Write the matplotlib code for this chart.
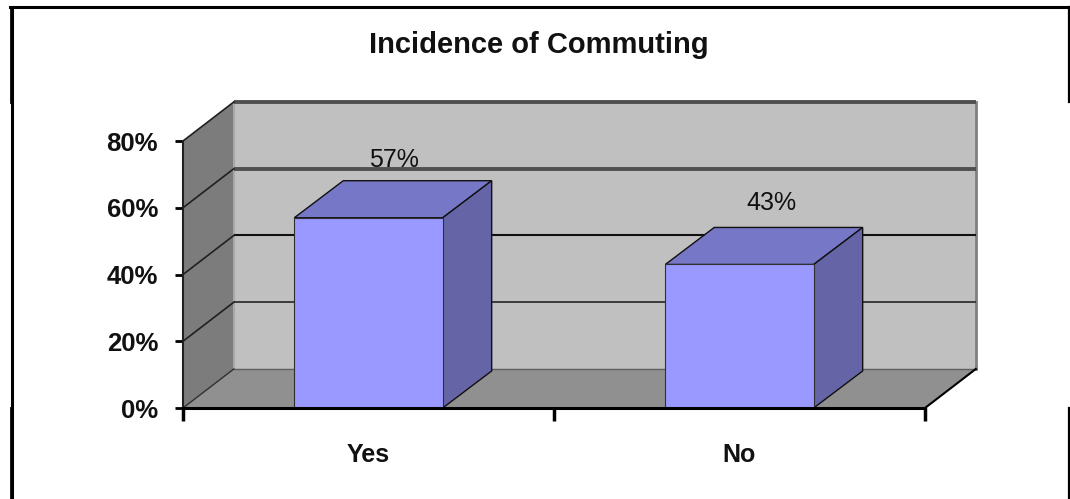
import matplotlib
matplotlib.use('Agg')
import matplotlib.pyplot as plt
from matplotlib.lines import Line2D
from matplotlib.patches import Polygon

categories = ['Yes', 'No']
values = [57, 43]
y_ticks = [0, 20, 40, 60, 80]
y_tick_labels = ['0%', '20%', '40%', '60%', '80%']

W, H = 1070, 499
plt.rcParams['font.family'] = ['Liberation Sans', 'DejaVu Sans']

fig = plt.figure(figsize=(W / 100, H / 100), dpi=100, facecolor='white')
# axes = front plane of the 3D box, in pixels 183..925 / 408..141
ax = fig.add_axes([183 / W, 1 - 408 / H, (925 - 183) / W, (408 - 141) / H])
ax.set_xlim(0, 2)
ax.set_ylim(0, 80)
ax.patch.set_alpha(0)

# depth of the box and of the bars, in data units
dx, dy = 0.137, 11.7
bar_dx, bar_dy = 0.132, 11.1
bar_w = 0.4


def poly(pts, fc, ec='none', lw=0.0, z=1):
    ax.add_patch(Polygon(pts, closed=True, fc=fc, ec=ec, lw=lw, zorder=z, clip_on=False))


# walls and floor
poly([(dx, dy), (2 + dx, dy), (2 + dx, 80 + dy), (dx, 80 + dy)], '#c0c0c0')
poly([(0, 0), (dx, dy), (dx, 80 + dy), (0, 80)], '#7c7c7c')
poly([(0, 0), (2, 0), (2 + dx, dy), (dx, dy)], '#909090')

# wall edges
ax.plot([dx, dx], [dy, 80 + dy], color='#a8a8a8', lw=1.5, zorder=2, clip_on=False)
ax.plot([2 + dx, 2 + dx], [dy, 80 + dy], color='#808080', lw=2, zorder=2, clip_on=False)
ax.plot([dx, 2 + dx], [dy, dy], color='#606060', lw=1, zorder=2, clip_on=False)
ax.plot([2, 2 + dx], [0, dy], color='black', lw=1.5, zorder=2, clip_on=False)
ax.plot([0, dx], [0, dy], color='#303030', lw=1, zorder=2, clip_on=False)

# gridlines, back wall plus the diagonal on the side wall
grid_cols = {20: '#303030', 40: '#101010', 60: '#505050', 80: '#505050'}
grid_lws = {20: 1.3, 40: 1.5, 60: 2.8, 80: 2.8}
for t in y_ticks[1:]:
    ax.plot([dx, 2 + dx], [t + dy, t + dy], color=grid_cols[t], lw=grid_lws[t],
            zorder=2, clip_on=False, solid_capstyle='butt')
    ax.plot([0, dx], [t, t + dy], color='#202020', lw=1.2, zorder=2, clip_on=False)

# bars
positions = [i + 0.5 for i in range(len(categories))]
ax.bar(positions, values, width=bar_w, color='#9999ff', edgecolor='#303030',
       linewidth=0.8, zorder=5, clip_on=False)
for x, v in zip(positions, values):
    l, r = x - bar_w / 2, x + bar_w / 2
    poly([(l, v), (r, v), (r + bar_dx, v + bar_dy), (l + bar_dx, v + bar_dy)],
         '#7777c8', '#101010', 1.0, 4)
    poly([(r, 0), (r + bar_dx, bar_dy), (r + bar_dx, v + bar_dy), (r, v)],
         '#6464a6', '#101010', 1.0, 4)

# data labels
label_dx = [25, 32]
label_dy = [58, 61]
for x, v, ox, oy in zip(positions, values, label_dx, label_dy):
    ax.annotate(f'{v}%', (x, v), xytext=(ox, oy), textcoords='offset pixels',
                ha='center', va='center', fontsize=18, color='#111111', zorder=6,
                annotation_clip=False)

# axes
for s in ['top', 'right']:
    ax.spines[s].set_visible(False)
ax.spines['left'].set_linewidth(1.5)
ax.spines['left'].set_color('#202020')
ax.spines['bottom'].set_linewidth(2.2)
ax.spines['bottom'].set_color('black')
for s in ax.spines.values():
    s.set_zorder(7)
ax.set_yticks(y_ticks)
ax.set_yticklabels(y_tick_labels, fontsize=18.5, fontweight='bold', color='#111111')
ax.tick_params(axis='y', length=6, width=2, pad=12)
ax.set_xticks([0, 1, 2])
ax.set_xticklabels([])
ax.tick_params(axis='x', length=9, width=2.5)
ax.set_xticks(positions, minor=True)
ax.set_xticklabels(categories, minor=True, fontsize=18, fontweight='bold', color='#111111')
ax.tick_params(axis='x', which='minor', length=0, pad=25)

fig.text(538.5 / W, 1 - 45 / H, 'Incidence of Commuting', ha='center', va='center',
         fontsize=21, fontweight='bold', color='#111111')

# broken outer frame of the original chart box
frame = [
    ([10, 1069], [7, 7], 2.2),
    ([12, 12], [7, 499], 2.2),
    ([10.5, 10.5], [7, 102], 2.0),
    ([10.5, 10.5], [408, 499], 2.0),
    ([1068.5, 1068.5], [7, 102], 1.6),
    ([1068.5, 1068.5], [408, 499], 1.6),
]
for xs, ys, lw in frame:
    fig.add_artist(Line2D([x / W for x in xs], [1 - y / H for y in ys],
                          color='black', lw=lw, transform=fig.transFigure))

fig.savefig('out.png', dpi=100)
